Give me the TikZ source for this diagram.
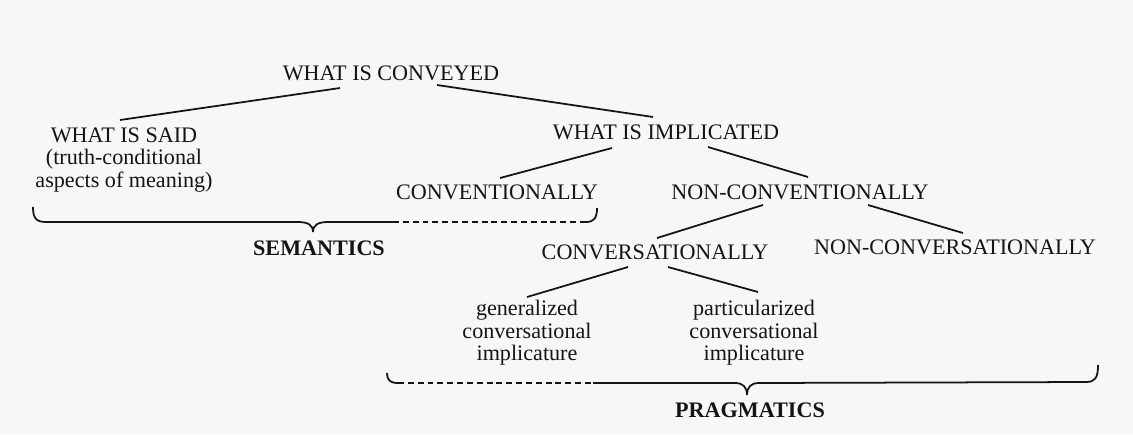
\documentclass[tikz,border=0pt]{standalone}
\usepackage{fontspec}
\setmainfont{Liberation Serif}
\usepackage{tikz}
\usetikzlibrary{calc}
\definecolor{paper}{RGB}{247,247,246}
\definecolor{ink}{RGB}{20,20,20}

\begin{document}
\begin{tikzpicture}[x=0.02cm,y=-0.02cm,every node/.style={font=\fontsize{12.6}{12.75}\selectfont,align=center,text=ink,inner sep=0pt},line width=1pt,ink]
\fill[paper] (0,0) rectangle (1133,434);
\useasboundingbox (0,0) rectangle (1133,434);
\node (conveyed) at (391,73) {WHAT IS CONVEYED};
\node (said) at (124,160) {WHAT IS SAID\\(truth-conditional\\aspects of meaning)};
\node (implicated) at (666,132) {WHAT IS IMPLICATED};
\node (conv) at (497,192) {CONVENTIONALLY};
\node (nonconv) at (800,192) {NON-CONVENTIONALLY};
\node (convers) at (655,252) {CONVERSATIONALLY};
\node (nonconvers) at (955,247) {NON-CONVERSATIONALLY};
\node (gen) at (527,333) {generalized\\conversational\\implicature};
\node (part) at (754,333) {particularized\\conversational\\implicature};
\node[font=\fontsize{12.6}{12.75}\selectfont\bfseries] (sem) at (319,248) {SEMANTICS};
\node[font=\fontsize{12.6}{12.75}\selectfont\bfseries] (prag) at (750,410) {PRAGMATICS};
\draw ($(conveyed)+(-51,15)$) -- ($(said)+(-4,-40)$);
\draw ($(conveyed)+(46,12)$) -- ($(implicated)+(-13,-15)$);
\draw ($(implicated)+(-54,16)$) -- ($(conv)+(3,-14)$);
\draw ($(implicated)+(42,15)$) -- ($(nonconv)+(8,-15)$);
\draw ($(nonconv)+(-37,13)$) -- ($(convers)+(2,-14)$);
\draw ($(nonconv)+(68,13)$) -- ($(nonconvers)+(8,-14)$);
\draw ($(convers)+(-27,15)$) -- ($(gen)+(0,-36)$);
\draw ($(convers)+(13,15)$) -- ($(part)+(4,-41)$);
% braces
\draw (33,207) .. controls (33,218) and (36,222) .. (46,222) -- (298,222) .. controls (308,222) and (313,225) .. (313,232) .. controls (313,225) and (318,222) .. (328,222) -- (393,222);
\draw[dash pattern=on 3.4pt off 2.2pt] (393,222) -- (586,222);
\draw (586,222) .. controls (594,222) and (597,218) .. (597,208);
\draw (387,373) .. controls (387,380) and (390,383) .. (398,383);
\draw[dash pattern=on 3.4pt off 2.2pt] (398,383) -- (593,383);
\draw (593,383) -- (735,383) .. controls (743,383) and (747,387) .. (747,395) .. controls (747,387) and (751,383) .. (759,383) -- (1086,382) .. controls (1095,382) and (1098,378) .. (1098,365);
\end{tikzpicture}
\end{document}
